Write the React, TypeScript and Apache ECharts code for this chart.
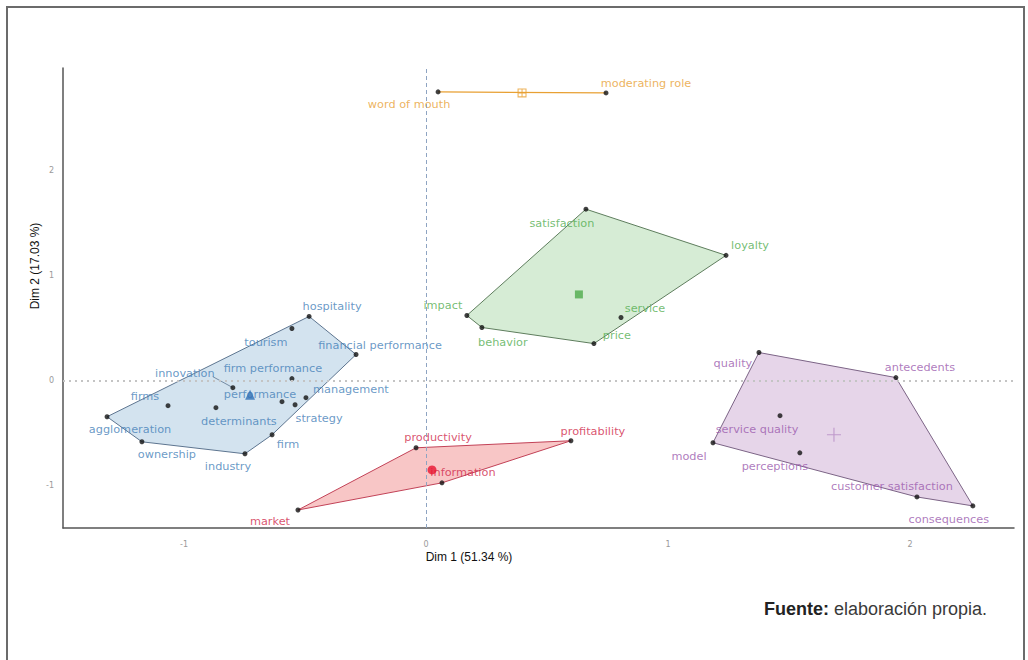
import React, { useEffect, useRef } from "react";
import * as echarts from "echarts";

// ---------- data ----------
const blueTerms = ["hospitality", "tourism", "financial performance", "firm performance", "innovation", "performance", "strategy", "management", "determinants", "firms", "agglomeration", "ownership", "industry", "firm"];
const blueX = [-0.483, -0.554, -0.289, -0.554, -0.798, -0.595, -0.541, -0.496, -0.868, -1.066, -1.318, -1.174, -0.748, -0.636];
const blueY = [0.61, 0.495, 0.248, 0.019, -0.067, -0.2, -0.229, -0.162, -0.257, -0.238, -0.343, -0.581, -0.695, -0.514];

const greenTerms = ["satisfaction", "loyalty", "impact", "behavior", "price", "service"];
const greenX = [0.661, 1.24, 0.169, 0.231, 0.694, 0.806];
const greenY = [1.629, 1.19, 0.619, 0.505, 0.352, 0.6];

const redTerms = ["productivity", "profitability", "information", "market"];
const redX = [-0.041, 0.599, 0.066, -0.529];
const redY = [-0.638, -0.571, -0.971, -1.229];

const purpleTerms = ["quality", "antecedents", "service quality", "model", "perceptions", "customer satisfaction", "consequences"];
const purpleX = [1.376, 1.942, 1.463, 1.186, 1.545, 2.029, 2.26];
const purpleY = [0.267, 0.029, -0.333, -0.59, -0.686, -1.105, -1.19];

const orangeTerms = ["word of mouth", "moderating role"];
const orangeX = [0.05, 0.744];
const orangeY = [2.743, 2.733];

const centroidX = [-0.727, 0.632, 0.025, 1.686, 0.397];
const centroidY = [-0.133, 0.819, -0.848, -0.514, 2.733];

const xTickLabels = ["-1", "0", "1", "2"];
const yTickLabels = ["-1", "0", "1", "2"];

// ---------- label layout (pixel offsets, repelled labels) ----------
const blueOffsets = [[23, -10], [-26, 14], [24, -9], [-19, -10], [-48, -14], [-22, -7], [24, 14], [45, -8], [23, 14], [-23, -9], [23, 13], [25, 13], [-17, 13], [16, 10]];
const greenOffsets = [[-24, 14], [24, -10], [-24, -10], [21, 15], [23, -8], [24, -9]];
const redOffsets = [[22, -10], [22, -9], [21, -10], [-28, 11]];
const purpleOffsets = [[-26, 11], [24, -10], [-23, 14], [-24, 14], [-25, 14], [-25, -10], [-24, 14]];
const orangeOffsets = [[-29, 13], [40, -9]];

function hull(pts: number[][]) {
  const p = pts.slice().sort((a, b) => a[0] - b[0] || a[1] - b[1]);
  if (p.length < 3) return p;
  const cross = (o: number[], a: number[], b: number[]) => (a[0] - o[0]) * (b[1] - o[1]) - (a[1] - o[1]) * (b[0] - o[0]);
  const lower: number[][] = [];
  for (const q of p) {
    while (lower.length >= 2 && cross(lower[lower.length - 2], lower[lower.length - 1], q) <= 0) lower.pop();
    lower.push(q);
  }
  const upper: number[][] = [];
  for (let i = p.length - 1; i >= 0; i--) {
    const q = p[i];
    while (upper.length >= 2 && cross(upper[upper.length - 2], upper[upper.length - 1], q) <= 0) upper.pop();
    upper.push(q);
  }
  upper.pop();
  lower.pop();
  return lower.concat(upper);
}

const FONT = "DejaVu Sans";

export default function App() {
  const ref = useRef<HTMLDivElement>(null);
  useEffect(() => {
    if (!ref.current) return;
    const chart = echarts.init(ref.current, undefined, { renderer: "svg" });

    const clusters = [
      { terms: blueTerms, xs: blueX, ys: blueY, offs: blueOffsets, label: "#4480b8", fill: "rgba(55,126,184,0.22)", stroke: "#5d7590" },
      { terms: greenTerms, xs: greenX, ys: greenY, offs: greenOffsets, label: "#52ad4f", fill: "rgba(77,175,74,0.23)", stroke: "#5e7d5d" },
      { terms: redTerms, xs: redX, ys: redY, offs: redOffsets, label: "#d0284a", fill: "rgba(228,26,28,0.25)", stroke: "#c24257" },
      { terms: purpleTerms, xs: purpleX, ys: purpleY, offs: purpleOffsets, label: "#9a5aad", fill: "rgba(152,78,163,0.24)", stroke: "#7c6486" },
      { terms: orangeTerms, xs: orangeX, ys: orangeY, offs: orangeOffsets, label: "#e8a033", fill: "none", stroke: "#e8a033" },
    ];

    const series: any[] = [];

    // zero lines
    series.push({
      type: "scatter",
      data: [],
      silent: true,
      markLine: {
        silent: true,
        symbol: "none",
        label: { show: false },
        data: [
          { xAxis: 0, lineStyle: { color: "#8ea4c2", type: [4, 3], width: 1 } },
          { yAxis: 0, lineStyle: { color: "#c4c4c4", type: [2, 4], width: 2 } },
        ],
      },
      z: 1,
    });

    clusters.forEach((c, ci) => {
      const pts = c.xs.map((x, i) => [x, c.ys[i]]);
      const h = hull(pts);
      const isLine = h.length < 3;
      series.push({
        type: "custom",
        silent: true,
        z: 2,
        data: h,
        renderItem: (params: any, api: any) => {
          if (params.dataIndex !== 0) return { type: "group", children: [] };
          const coords = h.map((p) => api.coord(p));
          const children: any[] = [];
          if (isLine) {
            children.push({ type: "polyline", shape: { points: coords }, style: { stroke: c.stroke, lineWidth: 1.2, fill: "none" } });
          } else {
            children.push({ type: "polygon", shape: { points: coords }, style: { fill: c.fill, stroke: c.stroke, lineWidth: 1 } });
          }
          if (ci === 0) {
            const k = c.terms.indexOf("innovation");
            const pc = api.coord([c.xs[k], c.ys[k]]);
            children.push({ type: "line", shape: { x1: pc[0], y1: pc[1], x2: pc[0] - 20, y2: pc[1] - 11 }, style: { stroke: "#5d7590", lineWidth: 0.8 } });
          }
          return { type: "group", children };
        },
      });
      series.push({
        type: "scatter",
        z: 4,
        symbol: "circle",
        symbolSize: 5,
        itemStyle: { color: "#111" },
        data: pts.map((p, i) => ({
          value: p,
          name: c.terms[i],
          label: { offset: c.offs[i] },
        })),
        label: {
          show: true,
          position: "inside",
          formatter: (p: any) => p.name,
          color: c.label,
          fontSize: 11.3,
          fontFamily: FONT,
        },
      });
    });

    // centroids
    const centroidStyles = [
      { symbol: "triangle", size: 10, itemStyle: { color: "#2f6fb5" } },
      { symbol: "rect", size: 8, itemStyle: { color: "#4dab4a" } },
      { symbol: "circle", size: 9, itemStyle: { color: "#e8132f" } },
      { symbol: "path://M0,4.6H10V5.4H0Z M4.6,0H5.4V10H4.6Z", size: 14, itemStyle: { color: "#b58bc4" } },
      { symbol: "path://M0,0H10V10H0Z M1.2,1.2V4.4H4.4V1.2Z M5.6,1.2V4.4H8.8V1.2Z M1.2,5.6V8.8H4.4V5.6Z M5.6,5.6V8.8H8.8V5.6Z", size: 9, itemStyle: { color: "#e8a033" } },
    ];
    centroidStyles.forEach((s, i) => {
      series.push({
        type: "scatter",
        z: 5,
        symbol: s.symbol,
        symbolSize: s.size,
        itemStyle: s.itemStyle,
        data: [[centroidX[i], centroidY[i]]],
        silent: true,
      });
    });

    const tickFmt = (labels: string[]) => (v: number) => {
      const r = Math.round(v * 1000) / 1000;
      return Number.isInteger(r) && labels.indexOf(String(r)) >= 0 ? String(r) : "";
    };

    chart.setOption({
      animation: false,
      grid: { left: 63, right: 14, top: 68, bottom: 132, containLabel: false },
      xAxis: {
        type: "value",
        min: -1.5,
        max: 2.43,
        interval: 0.5,
        splitLine: { show: false },
        axisTick: { show: false },
        axisLine: { show: true, onZero: false, lineStyle: { color: "#555", width: 1.5 } },
        axisLabel: { color: "#9a9a9a", fontSize: 8, margin: 12, showMaxLabel: false, formatter: tickFmt(xTickLabels), fontFamily: FONT },
      },
      yAxis: {
        type: "value",
        min: -1.4,
        max: 2.97,
        interval: 0.2,
        splitLine: { show: false },
        axisTick: { show: false },
        axisLine: { show: true, onZero: false, lineStyle: { color: "#555", width: 1.5 } },
        axisLabel: { color: "#9a9a9a", fontSize: 8, margin: 9, showMaxLabel: false, formatter: tickFmt(yTickLabels), fontFamily: FONT },
      },
      graphic: [
        { type: "rect", shape: { x: 7, y: 7, width: 1017, height: 680 }, style: { fill: "none", stroke: "#6b6b6b", lineWidth: 2 }, silent: true },
        { type: "text", x: 469, y: 557, style: { text: "Dim 1 (51.34 %)", fontSize: 12, fontFamily: "Liberation Sans", fill: "#111", align: "center", verticalAlign: "middle" } },
        { type: "text", x: 35, y: 266, rotation: Math.PI / 2, style: { text: "Dim 2 (17.03 %)", fontSize: 12, fontFamily: "Liberation Sans", fill: "#111", align: "center", verticalAlign: "middle" } },
        {
          type: "text",
          x: 987,
          y: 609,
          style: {
            text: "{b|Fuente:} elaboración propia.",
            align: "right",
            verticalAlign: "middle",
            fontSize: 18,
            fontFamily: "Liberation Sans",
            fill: "#3a3a3a",
            rich: { b: { fontWeight: "bold", fontSize: 18, fontFamily: "Liberation Sans", fill: "#222" } },
          },
        },
      ],
      series,
    });
    return () => chart.dispose();
  }, []);

  return <div ref={ref} style={{ position: "fixed", left: 0, top: 0, width: 1028, height: 660, background: "#fff" }} />;
}
